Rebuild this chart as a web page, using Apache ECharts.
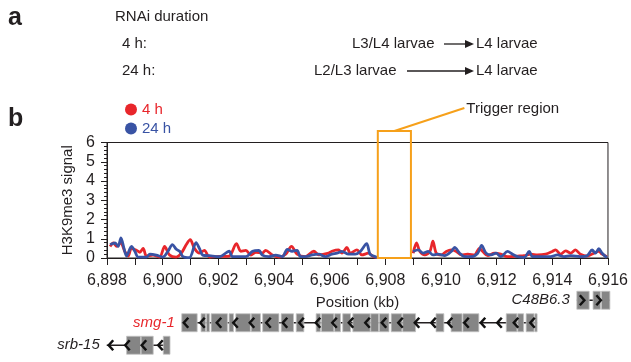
<!DOCTYPE html>
<html>
<head>
<meta charset="utf-8">
<script src="https://cdn.jsdelivr.net/npm/echarts@6/dist/echarts.min.js"></script>
<style>
  html, body { margin: 0; padding: 0; background: #fff; }
  #chart { width: 631px; height: 362px; }
</style>
</head>
<body>
<div id="chart"></div>
<script>
  // signal tracks (position in kb, H3K9me3 signal)
  var pos4h = [6898.11, 6898.23, 6898.35, 6898.49, 6898.64, 6898.76, 6898.88, 6899.06, 6899.18, 6899.30, 6899.42, 6899.65, 6899.89, 6900.07, 6900.25, 6900.49, 6900.67, 6900.85, 6900.99, 6901.14, 6901.32, 6901.50, 6901.68, 6902.04, 6902.39, 6902.65, 6902.81, 6902.99, 6903.17, 6903.35, 6903.58, 6903.70, 6903.94, 6904.18, 6904.42, 6904.63, 6904.83, 6905.13, 6905.43, 6905.61, 6905.96, 6906.08, 6906.32, 6906.44, 6906.62, 6906.74, 6906.98, 6907.16, 6907.39, 6907.57, 6907.73, 6908.3, 6909.00, 6909.12, 6909.24, 6909.42, 6909.60, 6909.71, 6909.83, 6910.01, 6910.19, 6910.37, 6910.55, 6910.73, 6910.96, 6911.20, 6911.38, 6911.50, 6911.68, 6911.92, 6912.15, 6912.39, 6912.75, 6912.99, 6913.23, 6913.46, 6913.76, 6914.00, 6914.12, 6914.30, 6914.48, 6914.66, 6914.83, 6915.01, 6915.25, 6915.49, 6915.67, 6915.79, 6915.96];
  var val4h = [0.6, 0.78, 0.6, 0.8, 0.34, 0.1, 0.5, 0.4, 0.3, 0.5, 0.1, 0.15, 0.05, 0.6, 0.15, 0.05, 0.25, 0.7, 0.95, 0.5, 0.25, 0.4, 0.05, 0.08, 0.1, 0.75, 0.35, 0.4, 0.15, 0.3, 0.25, 0.4, 0.15, 0.05, 0.2, 0.6, 0.2, 0.07, 0.35, 0.16, 0.25, 0.35, 0.42, 0.25, 0.55, 0.25, 0.42, 0.16, 0.25, 0.07, 0.02, null, 0.25, 0.78, 0.34, 0.16, 0.34, 0.87, 0.25, 0.16, 0.34, 0.42, 0.34, 0.16, 0.2, 0.16, 0.5, 0.34, 0.12, 0.25, 0.2, 0.07, 0.1, 0.12, 0.2, 0.16, 0.2, 0.34, 0.42, 0.2, 0.37, 0.25, 0.42, 0.2, 0.1, 0.25, 0.34, 0.2, 0.07];
  var pos24h = [6898.11, 6898.29, 6898.40, 6898.50, 6898.61, 6898.70, 6898.88, 6899.00, 6899.12, 6899.42, 6899.54, 6899.77, 6900.01, 6900.19, 6900.35, 6900.49, 6900.61, 6900.73, 6900.96, 6901.20, 6901.32, 6901.44, 6901.68, 6902.04, 6902.39, 6902.51, 6902.99, 6903.23, 6903.46, 6903.58, 6903.82, 6904.06, 6904.30, 6904.48, 6904.65, 6904.83, 6904.95, 6905.13, 6905.37, 6905.61, 6905.85, 6906.08, 6906.26, 6906.44, 6906.68, 6906.92, 6907.10, 6907.33, 6907.45, 6907.63, 6907.73, 6908.3, 6909.00, 6909.18, 6909.36, 6909.54, 6909.71, 6909.89, 6910.13, 6910.37, 6910.49, 6910.67, 6910.85, 6911.08, 6911.32, 6911.46, 6911.62, 6911.80, 6911.98, 6912.15, 6912.39, 6912.57, 6912.75, 6912.99, 6913.17, 6913.29, 6913.58, 6913.94, 6914.18, 6914.42, 6914.66, 6915.01, 6915.25, 6915.43, 6915.55, 6915.67, 6915.79, 6915.96];
  var val24h = [0.7, 0.78, 0.6, 1.05, 0.5, 0.1, 0.6, 0.35, 0.05, 0.05, 0.2, 0.15, 0.05, 0.35, 0.7, 0.45, 0.35, 0.07, 0.02, 0.8, 0.5, 0.15, 0.12, 0.07, 0.35, 0.07, 0.07, 0.35, 0.4, 0.15, 0.07, 0.15, 0.07, 0.45, 0.35, 0.4, 0.07, 0.07, 0.16, 0.2, 0.07, 0.2, 0.25, 0.34, 0.2, 0.2, 0.34, 0.75, 0.2, 0.07, 0.02, null, 0.34, 0.42, 0.25, 0.34, 0.16, 0.2, 0.12, 0.34, 0.55, 0.25, 0.07, 0.07, 0.25, 0.65, 0.25, 0.16, 0.25, 0.07, 0.34, 0.2, 0.07, 0.03, 0.34, 0.07, 0.07, 0.07, 0.16, 0.07, 0.12, 0.07, 0.12, 0.42, 0.25, 0.48, 0.25, 0.02];

  // trigger region (kb)
  var triggerRegion = [6907.73, 6908.92];

  // gene models below the axis
  var geneNames = ['C48B6.3', 'smg-1', 'srb-15'];
  var geneColors = ['#231f20', '#e8262b', '#231f20'];
  var geneStarts = [6914.78, 6900.67, 6897.99];
  var geneEnds = [6915.96, 6913.36, 6900.25];
  var geneStrands = [1, -1, -1];
  var geneExons = [
    [[6914.78, 6915.22], [6915.36, 6915.62], [6915.66, 6915.96]],
    [[6900.67, 6901.22], [6901.36, 6901.52], [6901.55, 6901.66], [6901.72, 6902.30], [6902.36, 6902.52],
     [6902.60, 6903.12], [6903.15, 6903.48], [6903.56, 6904.14], [6904.22, 6904.66], [6904.76, 6905.03],
     [6905.47, 6905.62], [6905.66, 6906.10], [6906.13, 6906.34], [6906.42, 6906.70], [6906.78, 6907.40],
     [6907.42, 6907.70], [6907.73, 6908.07], [6908.15, 6908.53], [6908.56, 6909.02], [6909.75, 6910.03],
     [6910.29, 6910.68], [6910.71, 6911.28], [6912.26, 6912.64], [6912.67, 6912.88], [6912.97, 6913.25],
     [6913.28, 6913.36]],
    [[6898.70, 6899.20], [6899.22, 6899.65], [6900.01, 6900.25]]
  ];

  var xTicks = [6898, 6916];
  var yTicks = [0, 6];

  var ink = '#231f20';
  var red = '#e8262b';
  var blue = '#3953a4';
  var orange = '#f6a01a';
  var font = 'Liberation Sans, Arial, Helvetica, sans-serif';

  function zip(xs, ys) {
    var out = [];
    for (var i = 0; i < xs.length; i++) out.push([xs[i], ys[i]]);
    return out;
  }

  function withCommas(v) {
    return String(v).replace(/\B(?=(\d{3})+(?!\d))/g, ',');
  }

  function geneRows(i) { return i + 0.5; }

  function renderTrigger(params, api) {
    var p1 = api.coord([api.value(0), 6.6]);
    var p2 = api.coord([api.value(1), 0]);
    var midX = (p1[0] + p2[0]) / 2;
    return {
      type: 'group',
      children: [
        {type: 'rect', shape: {x: p1[0], y: p1[1], width: p2[0] - p1[0], height: p2[1] - p1[1]},
          style: {fill: 'none', stroke: orange, lineWidth: 2}},
        {type: 'line', shape: {x1: midX, y1: p1[1], x2: midX + 70, y2: p1[1] - 23},
          style: {stroke: orange, lineWidth: 2}},
        {type: 'text', x: midX + 72, y: p1[1] - 22,
          style: {text: 'Trigger region', fill: ink, font: '15px ' + font, verticalAlign: 'middle', align: 'left'}}
      ]
    };
  }

  function renderGene(params, api) {
    var i = api.value(2);
    var y = api.coord([geneStarts[i], geneRows(i)])[1];
    var x0 = api.coord([geneStarts[i], 0])[0];
    var x1 = api.coord([geneEnds[i], 0])[0];
    var h = 18;
    var children = [{type: 'line', shape: {x1: x0, y1: y, x2: x1, y2: y}, style: {stroke: ink, lineWidth: 1.6}}];
    geneExons[i].forEach(function (ex) {
      var a = api.coord([ex[0], 0])[0];
      var b = api.coord([ex[1], 0])[0];
      children.push({type: 'rect', shape: {x: a, y: y - h / 2, width: b - a, height: h},
        style: {fill: '#858585', stroke: '#c2c2c2', lineWidth: 0.8}});
    });
    var d = geneStrands[i];
    for (var x = x0 + 2; x < x1 - 3; x += 16.5) {
      var pts = d < 0
        ? [[x + 4.5, y - 5], [x, y], [x + 4.5, y + 5]]
        : [[x + 1, y - 5], [x + 5.5, y], [x + 1, y + 5]];
      children.push({type: 'polyline', shape: {points: pts}, style: {stroke: '#111', lineWidth: 2.5, fill: null}});
    }
    children.push({type: 'text', x: x0 - 7, y: y,
      style: {text: geneNames[i], fill: geneColors[i], font: 'italic 15px ' + font, align: 'right', verticalAlign: 'middle'}});
    return {type: 'group', children: children};
  }

  var chart = echarts.init(document.getElementById('chart'), null, {renderer: 'canvas'});

  var option = {
    animation: false,
    backgroundColor: '#fff',
    textStyle: {fontFamily: font, color: ink},
    legend: {
      orient: 'vertical',
      left: 120,
      top: 97,
      itemGap: 4,
      itemWidth: 12,
      itemHeight: 12,
      icon: 'circle',
      textStyle: {fontSize: 15, fontFamily: font},
      data: [
        {name: '4 h', textStyle: {color: red}},
        {name: '24 h', textStyle: {color: blue}}
      ]
    },
    grid: [
      {left: 107, right: 20, top: 142.5, height: 115.5, show: true, borderColor: ink, borderWidth: 1},
      {left: 107, right: 20, top: 289, height: 67.5}
    ],
    xAxis: [
      {
        gridIndex: 0, type: 'value', min: xTicks[0], max: xTicks[1], interval: 1,
        name: 'Position (kb)', nameLocation: 'middle', nameGap: 37,
        nameTextStyle: {fontSize: 15, color: ink, fontFamily: font},
        axisLine: {lineStyle: {color: ink, width: 1}},
        axisTick: {length: 7, lineStyle: {color: ink}},
        splitLine: {show: false},
        axisLabel: {
          fontSize: 16, color: ink, margin: 15, fontFamily: font,
          formatter: function (v) { return (v - xTicks[0]) % 2 === 0 ? withCommas(v) : ''; }
        }
      },
      {gridIndex: 1, type: 'value', min: xTicks[0], max: xTicks[1], show: false}
    ],
    yAxis: [
      {
        gridIndex: 0, type: 'value', min: yTicks[0], max: yTicks[1], interval: 1,
        name: 'H3K9me3 signal', nameLocation: 'middle', nameGap: 26, nameRotate: 90,
        nameTextStyle: {fontSize: 15, color: ink, fontFamily: font},
        axisLine: {show: true, lineStyle: {color: ink, width: 1}},
        axisTick: {show: true, length: 6, lineStyle: {color: ink}},
        minorTick: {show: true, splitNumber: 5, length: 3, lineStyle: {color: ink}},
        splitLine: {show: false},
        axisLabel: {fontSize: 16, color: ink, margin: 12, fontFamily: font}
      },
      {gridIndex: 1, type: 'value', min: 0, max: 3, inverse: true, show: false}
    ],
    series: [
      {
        name: '4 h', type: 'line', xAxisIndex: 0, yAxisIndex: 0,
        data: zip(pos4h, val4h), showSymbol: false, smooth: 0.3, connectNulls: false,
        itemStyle: {color: red}, lineStyle: {color: red, width: 2.8}
      },
      {
        name: '24 h', type: 'line', xAxisIndex: 0, yAxisIndex: 0,
        data: zip(pos24h, val24h), showSymbol: false, smooth: 0.3, connectNulls: false,
        itemStyle: {color: blue}, lineStyle: {color: blue, width: 2.8}
      },
      {
        type: 'custom', xAxisIndex: 0, yAxisIndex: 0, clip: false, z: 5,
        renderItem: renderTrigger, data: [[triggerRegion[0], triggerRegion[1]]], silent: true
      },
      {
        type: 'custom', xAxisIndex: 1, yAxisIndex: 1, clip: false,
        renderItem: renderGene,
        encode: {x: 0, y: 1},
        data: geneNames.map(function (n, i) { return [geneStarts[i], geneRows(i), i]; }),
        silent: true
      }
    ],
    graphic: [
      {type: 'text', left: 8, top: 6, style: {text: 'a', font: 'bold 25px ' + font, fill: ink}},
      {type: 'text', left: 8, top: 107, style: {text: 'b', font: 'bold 25px ' + font, fill: ink}},
      {type: 'text', left: 115, top: 9, style: {text: 'RNAi duration', font: '15px ' + font, fill: ink}},
      {type: 'text', left: 122, top: 36, style: {text: '4 h:', font: '15px ' + font, fill: ink}},
      {type: 'text', left: 122, top: 63, style: {text: '24 h:', font: '15px ' + font, fill: ink}},
      {type: 'text', left: 352, top: 36, style: {text: 'L3/L4 larvae', font: '15px ' + font, fill: ink}},
      {type: 'text', left: 476, top: 36, style: {text: 'L4 larvae', font: '15px ' + font, fill: ink}},
      {type: 'text', left: 314, top: 63, style: {text: 'L2/L3 larvae', font: '15px ' + font, fill: ink}},
      {type: 'text', left: 476, top: 63, style: {text: 'L4 larvae', font: '15px ' + font, fill: ink}},
      {type: 'line', shape: {x1: 444, y1: 44, x2: 467, y2: 44}, style: {stroke: ink, lineWidth: 1.3}},
      {type: 'polygon', shape: {points: [[465, 40], [474, 44], [465, 48]]}, style: {fill: ink}},
      {type: 'line', shape: {x1: 407, y1: 71, x2: 467, y2: 71}, style: {stroke: ink, lineWidth: 1.3}},
      {type: 'polygon', shape: {points: [[465, 67], [474, 71], [465, 75]]}, style: {fill: ink}}
    ]
  };

  chart.setOption(option);
</script>
</body>
</html>
